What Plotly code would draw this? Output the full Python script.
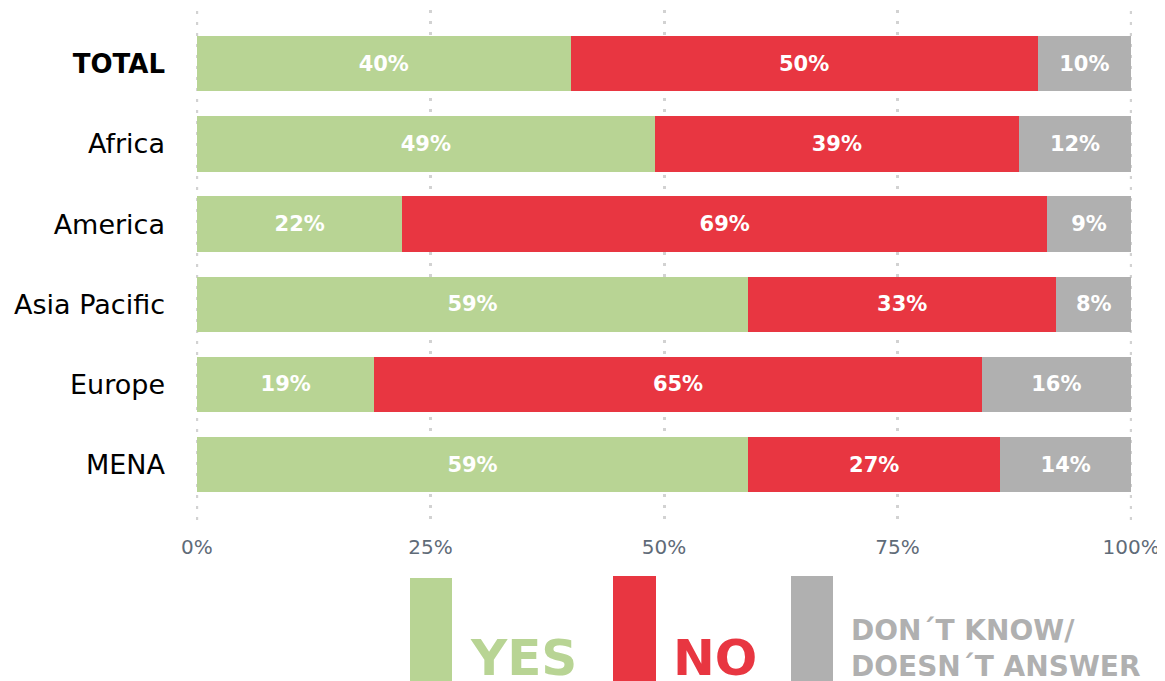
import plotly.graph_objects as go

categories = ["TOTAL", "Africa", "America", "Asia Pacific", "Europe", "MENA"]
yes = [40, 49, 22, 59, 19, 59]
no = [50, 39, 69, 33, 65, 27]
dk = [10, 12, 9, 8, 16, 14]
tick_vals = [0, 25, 50, 75, 100]
tick_text = ["0%", "25%", "50%", "75%", "100%"]

GREEN = "#b8d494"
RED = "#e83641"
GRAY = "#b0b0b0"
GRID = "#d2d2d2"
FONT = "DejaVu Sans"

cat_labels = ["<span style='font-size:26px'><b>TOTAL</b></span>"] + categories[1:]

fig = go.Figure()
for name, vals, col in [("YES", yes, GREEN), ("NO", no, RED), ("DK", dk, GRAY)]:
    fig.add_trace(go.Bar(
        y=cat_labels, x=vals, orientation="h", name=name,
        marker=dict(color=col, line=dict(width=0)),
        width=0.69,
        text=[f"<b>{v}%</b>" for v in vals], textposition="inside",
        insidetextanchor="middle",
        textfont=dict(color="white", size=21, family=FONT),
        hoverinfo="skip",
    ))

# page has an 8px body margin; size the figure so the page fits the window exactly
fig.update_layout(
    barmode="stack",
    width=1157, height=673,
    margin=dict(l=188, r=33, t=2, b=161),
    plot_bgcolor="white", paper_bgcolor="white",
    showlegend=False,
    font=dict(family=FONT),
    uniformtext=dict(mode="show", minsize=10),
)
fig.update_xaxes(
    range=[-0.1, 100.1], tickvals=tick_vals, ticktext=tick_text,
    showgrid=True, gridcolor=GRID, griddash="3px,8px", gridwidth=2.5,
    zeroline=False, showline=False, ticks="",
    tickfont=dict(size=20, color="#5f6b78", family=FONT),
    ticklabelstandoff=13,
)
fig.update_yaxes(
    autorange=False, range=[5.69, -0.67],
    showgrid=False, zeroline=False, showline=False, ticks="",
    tickfont=dict(size=27, color="black", family=FONT),
    ticklabelstandoff=30,
)

# edge gridlines (plotly drops grid lines at the range ends)
for xv in (tick_vals[0], tick_vals[-1]):
    fig.add_shape(type="line", xref="x", yref="paper", x0=xv, x1=xv, y0=0, y1=1,
                  line=dict(color=GRID, width=2.5, dash="3px,8px"), layer="below")

def px_x(px):
    return (px - 196) / 936

def px_y(py):
    return (520 - py) / 510

for x0, x1, y0, col in [(410, 452, 578, GREEN), (613, 656, 576, RED), (791, 833, 576, GRAY)]:
    fig.add_shape(type="rect", xref="paper", yref="paper",
                  x0=px_x(x0), x1=px_x(x1), y0=px_y(681), y1=px_y(y0),
                  fillcolor=col, line=dict(width=0))

fig.add_annotation(xref="paper", yref="paper", x=px_x(468), y=px_y(658),
                   xanchor="left", yanchor="middle", showarrow=False,
                   text="<b>YES</b>", font=dict(size=50, color=GREEN, family=FONT))
fig.add_annotation(xref="paper", yref="paper", x=px_x(671), y=px_y(658),
                   xanchor="left", yanchor="middle", showarrow=False,
                   text="<b>NO</b>", font=dict(size=50, color=RED, family=FONT))
fig.add_annotation(xref="paper", yref="paper", x=px_x(849), y=px_y(648),
                   xanchor="left", yanchor="middle", showarrow=False, align="left",
                   text="<b>DON´T KNOW/<br>DOESN´T ANSWER</b>",
                   font=dict(size=28, color=GRAY, family=FONT))

fig.write_html("out.html")
